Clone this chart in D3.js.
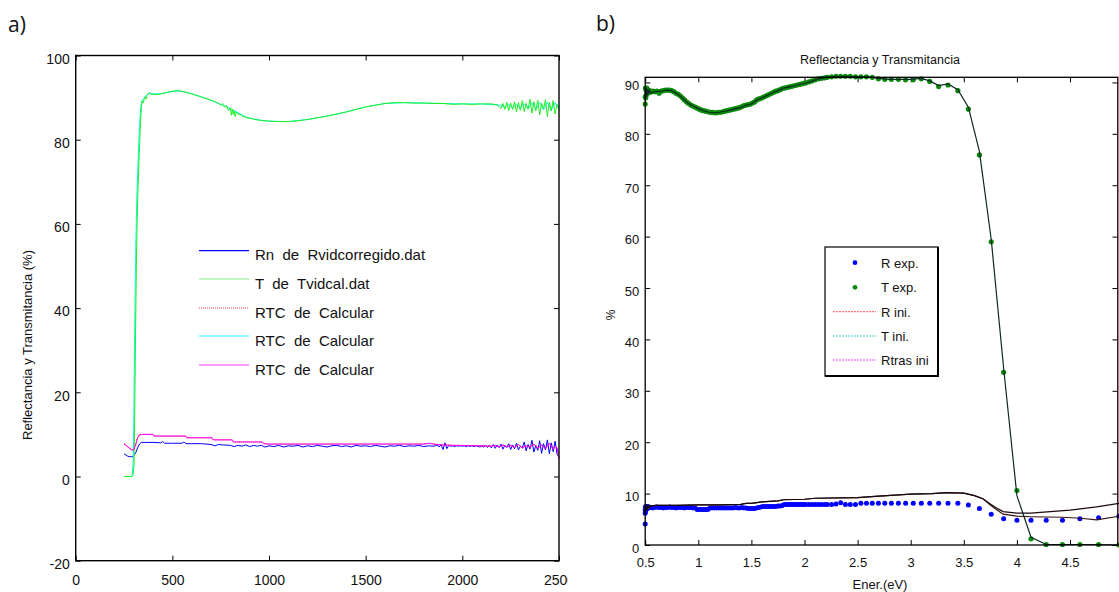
<!DOCTYPE html>
<html><head><meta charset="utf-8">
<script src="https://cdn.jsdelivr.net/npm/d3@7"></script>
<style>body{margin:0;background:#fff;} svg{display:block;font-family:"Liberation Sans",Arial,sans-serif;}</style>
</head><body><svg id="c" width="1119" height="592"></svg>
<script>
// ---------------- Panel a) data (wavelength nm, %) ----------------
const leftXTicks = [0, 500, 1000, 1500, 2000, 2500];
const leftYTicks = [-20, 0, 20, 40, 60, 80, 100];
const leftLegend = ["Rn  de  Rvidcorregido.dat", "T  de  Tvidcal.dat", "RTC  de  Calcular", "RTC  de  Calcular", "RTC  de  Calcular"];

const tVidcal = [[250,0],[292,0],[297,0.5],[302,3],[306,18],[310,36],[315,54],[320,65],[325,72],[330,78],[335,84],[340,88],[345,89.2],[350,88.8],[355,89.8],[360,90.2],[365,89.6],[370,90.6],[380,91.2],[390,90.8],[400,90.8],[420,90.7],[440,90.9],[460,91.1],[480,91.3],[500,91.5],[520,91.6],[540,91.6],[560,91.4],[580,91.1],[600,90.9],[620,90.6],[640,90.3],[660,90.0],[680,89.7],[700,89.4],[720,89.0],[740,88.6],[750,88.2],[760,88.6],[770,87.7],[780,88.2],[790,86.9],[800,87.6],[805,85.8],[810,87.3],[815,86.0],[820,86.9],[825,85.5],[830,86.6],[840,86.0],[850,86.1],[860,85.6],[880,85.3],[900,85.1],[920,84.9],[940,84.7],[960,84.6],[980,84.5],[1000,84.4],[1050,84.3],[1100,84.3],[1150,84.5],[1200,84.8],[1250,85.2],[1300,85.6],[1350,86.1],[1400,86.6],[1450,87.2],[1500,87.8],[1550,88.2],[1600,88.6],[1650,88.8],[1700,88.8],[1750,88.7],[1800,88.7],[1850,88.6],[1900,88.6],[1950,88.4],[2000,88.5],[2050,88.4],[2100,88.5],[2150,88.5],[2180,88.3],[2200,87.4],[2210,88.6],[2220,87.2],[2230,88.9],[2240,86.9],[2250,88.7],[2260,87.2],[2270,89.0],[2280,86.6],[2290,88.8],[2300,87.0],[2310,89.3],[2320,86.7],[2330,88.6],[2340,87.3],[2350,89.6],[2360,86.3],[2370,89.0],[2380,86.9],[2390,89.4],[2400,85.9],[2410,88.7],[2420,87.3],[2430,89.5],[2440,85.5],[2450,88.9],[2460,86.8],[2470,89.3],[2480,86.1],[2490,88.4],[2500,87.6]];

const tCalc = [[250,0],[288,0],[293,0.5],[298,4],[302,20],[306,38],[311,55],[316,66],[321,73],[326,79],[331,84],[336,87.5],[342,89.3],[350,89.6],[360,90.3],[370,90.7],[380,91.0],[400,90.9],[440,90.9],[480,91.3],[520,91.6],[560,91.4],[600,90.9],[640,90.3],[680,89.7],[720,89.0],[760,88.2],[800,87.4],[840,86.4],[880,85.4],[920,84.9],[960,84.6],[1000,84.4],[1100,84.3],[1200,84.8],[1300,85.6],[1400,86.6],[1500,87.8],[1600,88.6],[1700,88.8],[1800,88.7],[1900,88.6],[2000,88.5],[2100,88.5],[2200,88.2],[2220,87.6],[2240,88.4],[2260,87.5],[2280,88.5],[2300,87.4],[2320,88.6],[2340,87.3],[2360,88.7],[2380,87.2],[2400,88.8],[2420,87.1],[2440,88.9],[2460,87.0],[2480,88.8],[2500,87.2]];

const rnVid = [[250,5.4],[260,5.1],[270,4.8],[280,4.7],[290,4.7],[300,4.9],[310,5.6],[320,6.8],[330,7.7],[340,8.1],[360,8.1],[400,8.1],[440,8.0],[450,8.3],[460,7.9],[500,7.9],[550,7.9],[560,8.2],[570,7.8],[600,7.8],[650,7.8],[700,7.6],[720,7.3],[740,7.6],[760,7.5],[800,7.4],[820,7.1],[840,7.4],[860,7.2],[880,7.5],[900,7.1],[920,7.4],[940,7.2],[960,7.4],[980,7.0],[1000,7.3],[1025,7.1],[1050,7.4],[1075,7.0],[1100,7.3],[1125,7.2],[1150,7.4],[1175,7.0],[1200,7.3],[1225,7.1],[1250,7.4],[1275,7.2],[1300,7.0],[1325,7.3],[1350,7.4],[1375,7.1],[1400,7.3],[1425,7.0],[1450,7.4],[1475,7.2],[1500,7.3],[1525,7.1],[1550,7.4],[1575,7.2],[1600,7.0],[1625,7.3],[1650,7.2],[1675,7.4],[1700,7.1],[1725,7.3],[1750,7.2],[1775,7.4],[1800,7.1],[1825,7.3],[1850,7.2],[1860,7.3],[1870,7.5],[1880,7.0],[1890,7.6],[1900,6.4],[1910,8.0],[1920,6.6],[1930,7.4],[1940,7.2],[1950,7.3],[1960,7.1],[1970,7.3],[1980,7.2],[1990,7.3],[2000,7.2],[2010,7.3],[2020,7.1],[2030,7.3],[2040,7.2],[2050,7.3],[2060,7.1],[2070,7.3],[2080,7.2],[2090,7.0],[2100,7.2],[2110,7.0],[2120,7.3],[2130,6.9],[2140,7.4],[2150,6.8],[2160,7.6],[2170,6.7],[2180,7.5],[2190,6.9],[2200,7.7],[2210,6.5],[2220,7.4],[2230,6.9],[2240,7.8],[2250,6.4],[2260,7.5],[2270,6.6],[2280,7.9],[2290,6.3],[2300,7.2],[2310,6.8],[2320,8.2],[2330,6.1],[2340,7.6],[2350,6.5],[2360,8.6],[2370,5.8],[2380,7.4],[2390,6.2],[2400,8.5],[2410,5.5],[2420,7.8],[2430,6.3],[2440,8.7],[2450,5.4],[2460,8.0],[2470,5.9],[2480,8.4],[2490,5.3],[2500,4.5]];

const rtcCalc = [[250,7.8],[270,7.0],[290,6.3],[300,6.4],[310,7.5],[320,9.2],[330,9.9],[345,10.0],[400,10.0],[405,9.6],[570,9.6],[575,9.2],[705,9.2],[712,8.7],[810,8.7],[816,8.2],[965,8.2],[972,7.8],[1000,7.7],[1200,7.7],[1500,7.7],[1800,7.7],[1830,7.9],[1850,7.7],[1900,7.5],[1950,7.4],[2100,7.3],[2150,7.2],[2170,7.4],[2190,7.0],[2210,7.5],[2230,7.0],[2250,7.4],[2270,6.9],[2290,7.6],[2310,6.8],[2330,7.3],[2350,7.0],[2370,7.7],[2390,6.7],[2410,7.5],[2430,6.6],[2450,7.9],[2470,6.5],[2480,7.2],[2490,6.8],[2500,4.3]];

// ---------------- Panel b) data (energy eV, %) ----------------
const rightXTicks = [0.5, 1, 1.5, 2, 2.5, 3, 3.5, 4, 4.5];
const rightYTicks = [0, 10, 20, 30, 40, 50, 60, 70, 80, 90];
const rightLegend = ["R exp.", "T exp.", "R ini.", "T ini.", "Rtras ini"];

const tExp = [[0.500,85.8],[0.500,87.2],[0.502,88.9],[0.505,87.0],[0.508,88.6],[0.512,87.6],[0.516,88.9],[0.52,87.9],[0.525,88.5],[0.53,88.0],[0.54,88.4],[0.55,88.1],[0.57,88.3],[0.59,88.2],[0.61,88.3],[0.63,87.9],[0.65,88.3],[0.67,88.4],[0.69,88.5],[0.71,88.5],[0.73,88.5],[0.75,88.4],[0.77,88.2],[0.79,87.9],[0.81,87.7],[0.83,87.4],[0.85,87.0],[0.87,86.6],[0.89,86.2],[0.91,85.9],[0.93,85.6],[0.95,85.4],[0.97,85.2],[0.99,85.0],[1.01,84.8],[1.03,84.6],[1.05,84.5],[1.07,84.4],[1.09,84.3],[1.11,84.2],[1.13,84.2],[1.15,84.1],[1.17,84.1],[1.19,84.2],[1.21,84.2],[1.23,84.3],[1.25,84.4],[1.27,84.5],[1.29,84.6],[1.31,84.7],[1.33,84.8],[1.35,84.9],[1.37,85.0],[1.39,85.1],[1.41,85.3],[1.43,85.5],[1.45,85.6],[1.47,85.7],[1.49,85.8],[1.51,86.0],[1.53,86.2],[1.55,86.6],[1.57,86.8],[1.59,86.9],[1.61,87.1],[1.63,87.3],[1.65,87.5],[1.67,87.7],[1.69,87.9],[1.71,88.1],[1.73,88.3],[1.75,88.4],[1.77,88.6],[1.79,88.8],[1.81,88.9],[1.83,89.0],[1.85,89.1],[1.87,89.2],[1.89,89.3],[1.91,89.4],[1.93,89.5],[1.95,89.6],[1.97,89.7],[1.99,89.8],[2.01,89.9],[2.04,90.1],[2.07,90.3],[2.10,90.5],[2.13,90.7],[2.16,90.8],[2.19,90.9],[2.214,91.0],[2.255,91.1],[2.296,91.2],[2.340,91.2],[2.385,91.2],[2.431,91.2],[2.480,91.1],[2.531,91.1],[2.583,91.1],[2.638,91.0],[2.696,90.7],[2.756,90.6],[2.818,90.6],[2.884,90.6],[2.952,90.5],[3.024,90.5],[3.100,90.7],[3.179,90.2],[3.263,89.2],[3.351,89.5],[3.444,88.4],[3.543,84.8],[3.647,75.9],[3.758,59.0],[3.875,33.6],[4.000,10.6],[4.133,1.2],[4.276,0.1],[4.429,0.1],[4.593,0.1],[4.769,0.1],[4.960,0.0]];

const rExp = [[0.5,4.1],[0.5,6.2],[0.5,6.8],[0.502,7.4],[0.505,6.6],[0.508,7.5],[0.512,7.0],[0.516,7.5],[0.52,7.1],[0.525,7.4],[0.53,7.2],[0.54,7.4],[0.55,7.3],[0.57,7.2],[0.59,7.3],[0.61,7.4],[0.63,7.3],[0.65,7.3],[0.67,7.2],[0.69,7.3],[0.71,7.3],[0.73,7.4],[0.75,7.3],[0.77,7.3],[0.79,7.2],[0.81,7.3],[0.83,7.3],[0.85,7.3],[0.87,7.2],[0.89,7.3],[0.91,7.3],[0.93,7.3],[0.95,7.2],[0.97,7.2],[0.99,6.9],[1.01,6.9],[1.03,6.9],[1.05,6.9],[1.07,6.9],[1.09,6.9],[1.11,7.2],[1.13,7.2],[1.15,7.2],[1.17,7.2],[1.19,7.2],[1.21,7.2],[1.23,7.2],[1.25,7.2],[1.27,7.2],[1.29,7.2],[1.31,7.2],[1.33,7.2],[1.35,7.3],[1.37,7.2],[1.39,7.2],[1.41,7.3],[1.43,7.2],[1.45,7.2],[1.47,7.1],[1.49,7.1],[1.51,7.1],[1.53,7.1],[1.55,7.2],[1.57,7.3],[1.59,7.4],[1.61,7.5],[1.63,7.5],[1.65,7.5],[1.67,7.5],[1.69,7.5],[1.71,7.5],[1.73,7.5],[1.75,7.6],[1.77,7.6],[1.79,7.7],[1.81,7.9],[1.83,7.9],[1.85,7.9],[1.87,7.9],[1.89,7.9],[1.91,7.9],[1.93,7.9],[1.95,7.9],[1.97,7.9],[1.99,7.9],[2.01,7.9],[2.04,7.9],[2.07,7.9],[2.10,7.9],[2.13,7.9],[2.16,7.9],[2.19,7.9],[2.214,7.9],[2.255,7.9],[2.296,8.0],[2.340,8.2],[2.385,7.9],[2.431,7.9],[2.480,7.9],[2.531,8.1],[2.583,8.1],[2.638,8.1],[2.696,8.1],[2.756,8.1],[2.818,8.1],[2.884,8.1],[2.952,8.1],[3.024,8.1],[3.100,8.1],[3.179,8.1],[3.263,8.1],[3.351,8.1],[3.444,8.1],[3.543,7.8],[3.647,7.1],[3.758,6.0],[3.875,5.1],[4.000,4.8],[4.133,4.8],[4.276,4.8],[4.429,4.8],[4.593,5.1],[4.769,5.3],[4.960,5.6]];

const tIni = [[0.5,86.5],[0.503,88.8],[0.506,86.8],[0.51,89.0],[0.514,87.2],[0.518,88.7],[0.522,87.5],[0.527,88.6],[0.533,87.8],[0.54,88.5],[0.55,88.0],[0.6,88.2],[0.65,88.3],[0.7,88.5],[0.75,88.4],[0.8,87.8],[0.85,87.0],[0.9,86.0],[0.95,85.4],[1.0,84.9],[1.05,84.5],[1.1,84.2],[1.15,84.1],[1.2,84.2],[1.25,84.4],[1.3,84.6],[1.35,84.9],[1.4,85.1],[1.45,85.6],[1.5,85.8],[1.55,86.6],[1.6,87.0],[1.65,87.5],[1.7,88.0],[1.75,88.4],[1.8,88.9],[1.85,89.1],[1.9,89.3],[1.95,89.6],[2.0,89.8],[2.05,90.1],[2.1,90.5],[2.15,90.8],[2.214,91.0],[2.3,91.2],[2.4,91.2],[2.5,91.1],[2.6,91.1],[2.7,90.8],[2.8,90.6],[2.9,90.6],[3.0,90.6],[3.1,90.8],[3.179,90.3],[3.263,89.4],[3.351,89.7],[3.444,88.6],[3.543,85.2],[3.647,76.6],[3.758,59.5],[3.875,34.4],[4.0,9.6],[4.133,1.5],[4.276,0.1],[4.429,0.1],[4.593,0.1],[4.769,0.1],[4.96,0.0]];

const rtrasIni = [[0.5,6.0],[0.503,7.9],[0.506,6.4],[0.51,7.8],[0.514,6.8],[0.518,7.8],[0.523,7.0],[0.53,7.7],[0.54,7.3],[0.55,7.6],[0.6,7.7],[0.8,7.7],[1.0,7.8],[1.2,7.8],[1.4,7.9],[1.45,8.1],[1.5,8.1],[1.6,8.4],[1.75,8.6],[1.8,8.8],[2.0,8.9],[2.1,9.1],[2.5,9.2],[2.7,9.5],[3.0,9.9],[3.2,10.0],[3.35,10.2],[3.5,10.1],[3.6,9.6],[3.68,9.0],[3.75,8.0],[3.8,7.3],[3.87,6.5],[4.0,6.2],[4.13,6.2],[4.5,6.8],[4.75,7.4],[4.96,8.1]];

const rIni = [[0.5,6.2],[0.504,7.7],[0.508,6.6],[0.512,7.6],[0.517,6.9],[0.522,7.7],[0.53,7.2],[0.54,7.5],[0.55,7.6],[0.6,7.7],[0.8,7.7],[1.0,7.8],[1.2,7.8],[1.4,7.9],[1.45,8.1],[1.5,8.1],[1.6,8.4],[1.75,8.6],[1.8,8.8],[2.0,8.9],[2.1,9.1],[2.5,9.2],[2.7,9.5],[3.0,9.9],[3.2,10.0],[3.35,10.2],[3.5,10.1],[3.6,9.6],[3.68,9.0],[3.75,7.8],[3.8,7.0],[3.87,6.0],[4.0,5.6],[4.13,5.5],[4.43,5.4],[4.6,5.2],[4.75,4.9],[4.96,5.6]];

// ---------------- drawing ----------------
const svg = d3.select("#c");
const defs = svg.append("defs");
defs.append("clipPath").attr("id","clipL").append("rect").attr("x",0).attr("y",0).attr("width",568).attr("height",592);

const plain = d => String(d);

function styleAxis(g, fs){
  g.select(".domain").remove();
  g.selectAll(".tick line").attr("stroke","#000").attr("stroke-width",1);
  g.selectAll("text").attr("fill","#111").style("font-size",fs+"px").style("font-family",'"Liberation Sans",Arial,sans-serif');
}

// ===== Panel a =====
const gL = svg.append("g").attr("clip-path","url(#clipL)");
const xL = d3.scaleLinear().domain([0,2500]).range([75.7,559]);
const yL = d3.scaleLinear().domain([-20,100]).range([560.7,55.5]);

gL.append("g").attr("transform","translate(0,560.7)")
  .call(d3.axisBottom(xL).tickValues(leftXTicks).tickSize(-5).tickPadding(14).tickFormat(plain))
  .call(g=>styleAxis(g,14));
gL.append("g").attr("transform","translate(0,55.5)")
  .call(d3.axisTop(xL).tickValues(leftXTicks).tickSize(-5).tickFormat(""))
  .call(g=>styleAxis(g,14));
gL.append("g").attr("transform","translate(75.7,0)")
  .call(d3.axisLeft(yL).tickValues(leftYTicks).tickSize(-5).tickPadding(6).tickFormat(plain))
  .call(g=>{styleAxis(g,14); g.selectAll("text").attr("dy","0.55em");});
gL.append("g").attr("transform","translate(559,0)")
  .call(d3.axisRight(yL).tickValues(leftYTicks).tickSize(-5).tickFormat(""))
  .call(g=>styleAxis(g,14));

const lineL = d3.line().x(d=>xL(d[0])).y(d=>yL(d[1]));
gL.append("path").datum(rnVid).attr("d",lineL).attr("fill","none").attr("stroke","#0000ff").attr("stroke-width",1);
gL.append("path").datum(tCalc).attr("d",lineL).attr("fill","none").attr("stroke","#00ffee").attr("stroke-width",1);
gL.append("path").datum(tVidcal).attr("d",lineL).attr("fill","none").attr("stroke","#22ee22").attr("stroke-width",1);
gL.append("path").datum(rtcCalc).attr("d",lineL).attr("fill","none").attr("stroke","#ff0000").attr("stroke-width",1).attr("stroke-dasharray","1,1");
gL.append("path").datum(rtcCalc).attr("d",lineL).attr("fill","none").attr("stroke","#ff00ff").attr("stroke-width",1);

gL.append("rect").attr("x",75.7).attr("y",55.5).attr("width",559-75.7).attr("height",560.7-55.5)
  .attr("fill","none").attr("stroke","#000").attr("stroke-width",1.4);

// legend a
const legColorsL = ["#0000ff","#88ee88","#ff4444","#22ffff","#ff33ff"];
const legDashL = [null,null,"1,1",null,null];
const legYL = [250.7,279,308,336,365];
leftLegend.forEach((t,i)=>{
  const ln = gL.append("line").attr("x1",199).attr("x2",249).attr("y1",legYL[i]).attr("y2",legYL[i])
    .attr("stroke",legColorsL[i]).attr("stroke-width",1.2);
  if(legDashL[i]) ln.attr("stroke-dasharray",legDashL[i]);
  gL.append("text").attr("x",255).attr("y",legYL[i]+9.5).style("white-space","pre")
    .style("font-size","15px").attr("fill","#111").text(t);
});

gL.append("text").attr("transform","translate(32,345) rotate(-90)").attr("text-anchor","middle")
  .style("font-size","13px").attr("fill","#111").text("Reflectancia y Transmitancia (%)");

svg.append("text").attr("x",8).attr("y",32).style("font-family",'"Open Sans",sans-serif').style("font-size","21px").attr("fill","#111").text("a)");
svg.append("text").attr("x",596).attr("y",31).style("font-family",'"Open Sans",sans-serif').style("font-size","21px").attr("fill","#111").text("b)");

// ===== Panel b =====
const gR = svg.append("g");
const xR = d3.scaleLinear().domain([0.5,4.95]).range([645.2,1117.8]);
const yR = d3.scaleLinear().domain([0,91]).range([545,77.3]);

gR.append("g").attr("transform","translate(0,545)")
  .call(d3.axisBottom(xR).tickValues(rightXTicks).tickSize(-5).tickPadding(12.5).tickFormat(plain))
  .call(g=>styleAxis(g,13));
gR.append("g").attr("transform","translate(0,77.3)")
  .call(d3.axisTop(xR).tickValues(rightXTicks).tickSize(-5).tickFormat(""))
  .call(g=>styleAxis(g,13));
gR.append("g").attr("transform","translate(645.2,0)")
  .call(d3.axisLeft(yR).tickValues(rightYTicks).tickSize(-5).tickPadding(6).tickFormat(plain))
  .call(g=>{styleAxis(g,13); g.selectAll("text").attr("dy","0.55em");});
gR.append("g").attr("transform","translate(1117.5,0)")
  .call(d3.axisRight(yR).tickValues(rightYTicks).tickSize(-5).tickFormat(""))
  .call(g=>styleAxis(g,13));

gR.append("g").selectAll("circle").data(rExp).join("circle")
  .attr("cx",d=>xR(d[0])).attr("cy",d=>yR(d[1])).attr("r",2.5).attr("fill","#0000ff");
gR.append("g").selectAll("circle").data(tExp).join("circle")
  .attr("cx",d=>xR(d[0])).attr("cy",d=>yR(d[1])).attr("r",2.6).attr("fill","#0a8a0a");

const lineR = d3.line().x(d=>xR(d[0])).y(d=>yR(d[1]));
gR.append("path").datum(rIni).attr("d",lineR).attr("fill","none").attr("stroke","#3a1414").attr("stroke-width",1.2);
gR.append("path").datum(tIni).attr("d",lineR).attr("fill","none").attr("stroke","#0c2a24").attr("stroke-width",1.2);
gR.append("path").datum(rtrasIni).attr("d",lineR).attr("fill","none").attr("stroke","#1a0a10").attr("stroke-width",1.2);

gR.append("rect").attr("x",645.2).attr("y",77.3).attr("width",1117.8-645.2).attr("height",545-77.3)
  .attr("fill","none").attr("stroke","#000").attr("stroke-width",1.3);

gR.append("text").attr("x",880).attr("y",64).attr("text-anchor","middle").style("font-size","12.5px").attr("fill","#111")
  .text("Reflectancia y Transmitancia");
gR.append("text").attr("x",880).attr("y",589).attr("text-anchor","middle").style("font-size","13px").attr("fill","#111")
  .text("Ener.(eV)");
gR.append("text").attr("transform","translate(615,315) rotate(-90)").attr("text-anchor","middle").style("font-size","12px").attr("fill","#111")
  .text("%");

// legend b
gR.append("rect").attr("x",825).attr("y",247).attr("width",113).attr("height",129).attr("fill","#fff").attr("stroke","#000").attr("stroke-width",1.2);
gR.append("path").attr("d","M938,247 V376 H825").attr("fill","none").attr("stroke","#000").attr("stroke-width",2);
const legYR = [262.7,287.3,311.7,336,360];
gR.append("circle").attr("cx",855).attr("cy",legYR[0]).attr("r",2.4).attr("fill","#0000ff");
gR.append("circle").attr("cx",855).attr("cy",legYR[1]).attr("r",2.4).attr("fill","#0a8a0a");
const legLineCols = ["#ff5555","#44cccc","#ee44ee"];
[2,3,4].forEach((k,j)=>{
  gR.append("line").attr("x1",833).attr("x2",876).attr("y1",legYR[k]).attr("y2",legYR[k])
    .attr("stroke",legLineCols[j]).attr("stroke-width",1).attr("stroke-dasharray","2,1");
});
rightLegend.forEach((t,i)=>{
  gR.append("text").attr("x",881).attr("y",legYR[i]+5).style("font-size","13px").attr("fill","#111").text(t);
});
</script></body></html>
